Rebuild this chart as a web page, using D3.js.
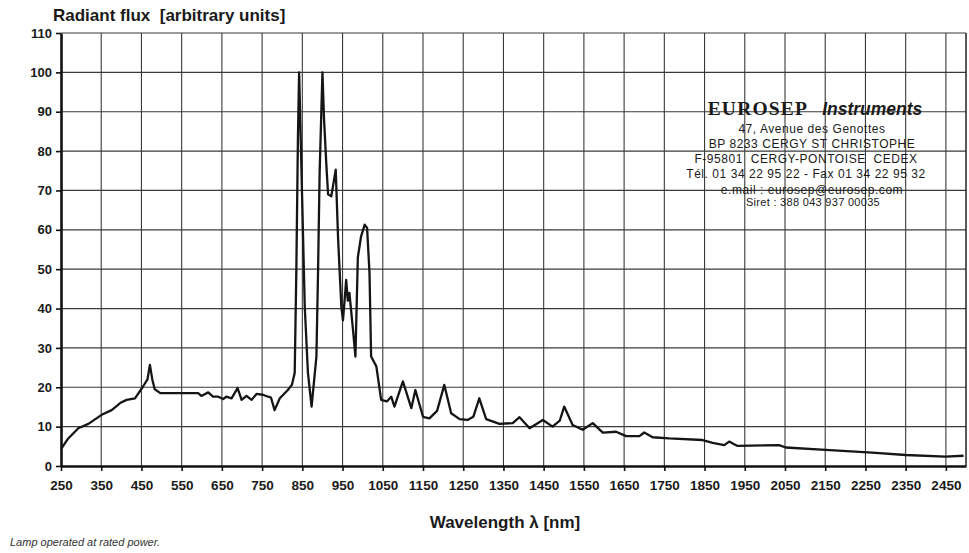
<!DOCTYPE html>
<html>
<head>
<meta charset="utf-8">
<script src="https://cdn.jsdelivr.net/npm/d3@7"></script>
<style>
  body { margin: 0; background: #fff; }
  svg { font-family: "Liberation Sans", Arial, sans-serif; }
</style>
</head>
<body>
<svg id="chart" width="969" height="553"></svg>
<script>
// wavelength (nm) and radiant flux (arbitrary units)
const wavelength = [
  250, 268, 293, 318, 351, 376, 397, 413, 434, 454, 465, 471, 477, 483, 497,
  591, 599, 616, 628, 641, 653, 661, 674, 689, 699, 711, 724, 736, 752, 765,
  772, 781, 794, 814, 824, 831, 835, 839, 842, 848, 856, 864, 873, 885, 889,
  893, 900, 904, 910, 914, 922, 933, 939, 947, 951, 955, 959, 963, 967, 976,
  982, 988, 996, 1005, 1011, 1017, 1021, 1034, 1046, 1060, 1071, 1079, 1100, 1121, 1131,
  1150, 1166, 1185, 1203, 1220, 1241, 1261, 1275, 1290, 1307, 1340, 1373, 1390, 1415, 1448,
  1472, 1490, 1501, 1522, 1547, 1572, 1597, 1630, 1655, 1688, 1700, 1721, 1762, 1845, 1870,
  1899, 1911, 1932, 2035, 2052, 2151, 2267, 2350, 2449, 2494
];
const flux = [
  4.3, 7.0, 9.6, 10.7, 13.0, 14.2, 16.0, 16.8, 17.2, 20.2, 22.0, 25.7, 22.0, 19.5, 18.5,
  18.5, 17.8, 18.7, 17.6, 17.6, 17.0, 17.6, 17.2, 19.8, 16.8, 17.8, 16.8, 18.3, 18.1, 17.6,
  17.4, 14.2, 17.2, 19.3, 20.6, 23.6, 49, 83, 100, 74.5, 40.5, 23.6, 15.1, 27.8, 49,
  74.5, 100, 88, 76, 69, 68.5, 75.3, 57.5, 40.5, 37, 42, 47.3, 42, 44, 34.6,
  27.8, 53, 58.3, 61.3, 60.5, 49, 27.8, 25.3, 16.8, 16.4, 17.6, 15.1, 21.5, 14.7, 19.3,
  12.5, 12.1, 14.0, 20.6, 13.4, 11.9, 11.7, 12.5, 17.2, 11.9, 10.7, 10.9, 12.4, 9.6, 11.7,
  10.0, 11.5, 15.1, 10.4, 9.2, 10.9, 8.5, 8.7, 7.6, 7.6, 8.5, 7.3, 7.0, 6.6, 5.9,
  5.3, 6.2, 5.1, 5.3, 4.7, 4.1, 3.4, 2.8, 2.4, 2.6
];
const xTicks = d3.range(250, 2451, 100);
const yTicks = d3.range(0, 111, 10);
const addressLines = [
  "47, Avenue des Genottes",
  "BP 8233 CERGY ST CHRISTOPHE",
  "F-95801  CERGY-PONTOISE  CEDEX",
  "Tél. 01 34 22 95 22 - Fax 01 34 22 95 32",
  "e.mail : eurosep@eurosep.com"
];
const siret = "Siret : 388 043 937 00035";

const data = wavelength.map((w, i) => ({ w, f: flux[i] }));

const svg = d3.select("#chart"),
  margin = { top: 33, right: 3, bottom: 87, left: 61 },
  width = +svg.attr("width") - margin.left - margin.right,
  height = +svg.attr("height") - margin.top - margin.bottom;

const chart = svg.append("g")
  .attr("transform", `translate(${margin.left},${margin.top})`);

const x = d3.scaleLinear().domain([250, 2500]).range([0, width]);
const y = d3.scaleLinear().domain([0, 110]).range([height, 0]);

// grid
chart.append("g")
  .selectAll("line")
  .data(xTicks.slice(1))
  .join("line")
  .attr("x1", d => x(d)).attr("x2", d => x(d))
  .attr("y1", 0).attr("y2", height)
  .attr("stroke", "#3a3a3a")
  .attr("stroke-width", 1.1);

chart.append("g")
  .selectAll("line")
  .data(yTicks.slice(1))
  .join("line")
  .attr("x1", 0).attr("x2", width)
  .attr("y1", d => y(d)).attr("y2", d => y(d))
  .attr("stroke", "#3a3a3a")
  .attr("stroke-width", 1.2);

// right border
chart.append("line")
  .attr("x1", width).attr("x2", width)
  .attr("y1", 0).attr("y2", height)
  .attr("stroke", "#222").attr("stroke-width", 1.5);

// axes
const xAxis = chart.append("g")
  .attr("transform", `translate(0,${height})`)
  .call(d3.axisBottom(x).tickValues(xTicks).tickFormat(d3.format("d"))
    .tickSize(5).tickSizeOuter(0).tickPadding(9));
const yAxis = chart.append("g")
  .call(d3.axisLeft(y).tickValues(yTicks).tickSize(5).tickSizeOuter(0).tickPadding(4));

[xAxis, yAxis].forEach(a => {
  a.select(".domain").attr("stroke", "#111").attr("stroke-width", 2.6);
  a.selectAll(".tick line").attr("stroke", "#111").attr("stroke-width", 1.6);
  a.selectAll(".tick text")
    .attr("fill", "#1a1a1a")
    .attr("font-weight", "bold")
    .attr("font-family", "'Liberation Sans', Arial, sans-serif");
});
xAxis.selectAll(".tick text").attr("font-size", 13.5);
yAxis.selectAll(".tick text").attr("font-size", 13);

// spectrum
const line = d3.line()
  .x(d => x(d.w))
  .y(d => y(d.f));

chart.append("path")
  .datum(data)
  .attr("fill", "none")
  .attr("stroke", "#151515")
  .attr("stroke-width", 2.3)
  .attr("stroke-linejoin", "round")
  .attr("d", line);

// titles
svg.append("text")
  .attr("x", 53).attr("y", 21)
  .attr("font-size", 17).attr("font-weight", "bold")
  .attr("fill", "#1a1a1a")
  .style("white-space", "pre")
  .text("Radiant flux  [arbitrary units]");

svg.append("text")
  .attr("x", 505).attr("y", 528)
  .attr("text-anchor", "middle")
  .attr("font-size", 17).attr("font-weight", "bold")
  .attr("fill", "#1a1a1a")
  .text("Wavelength λ [nm]");

svg.append("text")
  .attr("x", 10).attr("y", 546)
  .attr("font-size", 11).attr("font-style", "italic")
  .attr("fill", "#333")
  .text("Lamp operated at rated power.");

// company block
const cx = 813;
const block = svg.append("g").attr("fill", "#1a1a1a");
const head = block.append("text")
  .attr("x", 815).attr("y", 115)
  .attr("text-anchor", "middle");
head.append("tspan")
  .attr("font-family", "'Liberation Serif', 'Times New Roman', serif")
  .attr("font-weight", "bold")
  .attr("font-size", 19.5)
  .attr("letter-spacing", 1.2)
  .text("EUROSEP");
head.append("tspan")
  .attr("font-weight", "bold").attr("font-style", "italic")
  .attr("font-size", 17.5)
  .attr("dx", 14)
  .text("Instruments");

block.selectAll("text.addr")
  .data(addressLines)
  .join("text")
  .attr("class", "addr")
  .attr("x", (d, i) => (i === 2 || i === 3) ? 806 : 812)
  .attr("y", (d, i) => 132.5 + i * 15.3)
  .attr("text-anchor", "middle")
  .attr("font-size", 12)
  .attr("letter-spacing", 0.55)
  .style("white-space", "pre")
  .text(d => d);

block.append("text")
  .attr("x", cx).attr("y", 206)
  .attr("text-anchor", "middle")
  .attr("font-size", 11)
  .attr("letter-spacing", 0.3)
  .text(siret);
</script>
</body>
</html>
